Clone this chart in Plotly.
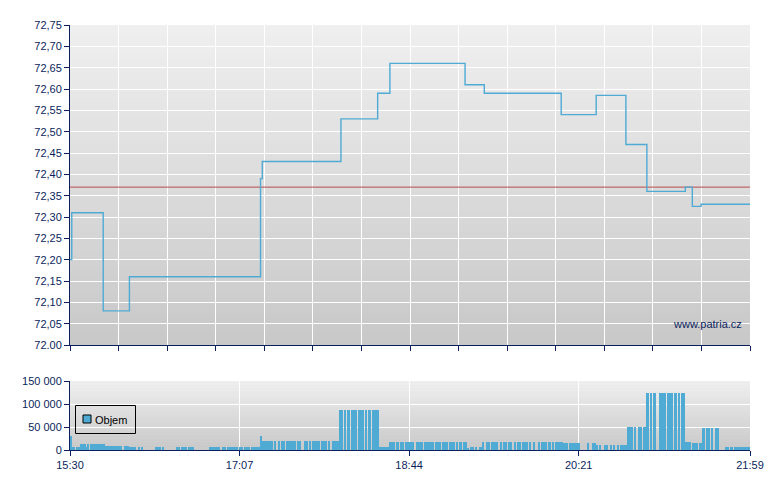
import plotly.graph_objects as go

# ---------------- data ----------------
price_times = ["15:30", "15:31", "15:49", "16:04", "17:19", "17:20", "18:05", "18:26",
               "18:33", "19:16", "19:27", "20:11", "20:31", "20:48", "21:00", "21:22",
               "21:26", "21:31", "21:59"]
price_values = [72.20, 72.31, 72.08, 72.16, 72.39, 72.43, 72.53, 72.59,
                72.66, 72.61, 72.59, 72.54, 72.585, 72.47, 72.36, 72.37,
                72.325, 72.33, 72.33]
prev_close = 72.37

session_start = "15:30"
session_end = "21:59"
# one value per minute from 15:30
volume_values = [
    30000, 6000, 6000, 0, 7000, 7000, 13000, 13000, 13000, 7000,
    13000, 0, 13000, 13000, 13000, 13000, 13000, 13000, 13000, 13000,
    9000, 9000, 9000, 9000, 9000, 9000, 9000, 9000, 9000, 9000,
    0, 9000, 9000, 9000, 6500, 6500, 6500, 6500, 0, 6500,
    0, 6500, 0, 0, 0, 0, 0, 0, 0, 6500,
    6500, 6500, 0, 6500, 0, 0, 0, 0, 0, 0,
    0, 6500, 6500, 0, 6500, 6500, 6500, 0, 6500, 6500,
    6500, 0, 0, 0, 0, 0, 0, 0, 0, 0,
    6500, 6500, 6500, 6500, 6500, 6500, 0, 6500, 6500, 0,
    6500, 6500, 6500, 6500, 6500, 6500, 0, 6500, 6500, 0,
    6500, 6500, 6500, 0, 6500, 6500, 6500, 6500, 6500, 30000,
    19500, 19500, 19500, 19500, 19500, 19500, 0, 19500, 0, 19500,
    0, 19500, 19500, 0, 19500, 19500, 19500, 19500, 19500, 0,
    19500, 19500, 0, 0, 19500, 19500, 0, 19500, 0, 19500,
    19500, 19500, 19500, 0, 19500, 19500, 19500, 0, 19500, 0,
    19500, 19500, 19500, 19500, 87000, 87000, 0, 87000, 0, 87000,
    0, 87000, 87000, 87000, 0, 87000, 87000, 87000, 0, 87000,
    0, 87000, 0, 87000, 87000, 87000, 87000, 6500, 6500, 6500,
    6500, 6500, 6500, 17400, 17400, 17400, 0, 17400, 0, 17400,
    17400, 0, 17400, 17400, 17400, 17400, 17400, 0, 17400, 17400,
    17400, 17400, 0, 17400, 17400, 17400, 17400, 17400, 0, 17400,
    17400, 17400, 0, 17400, 17400, 17400, 0, 17400, 17400, 17400,
    0, 17400, 0, 17400, 0, 17400, 17400, 4000, 0, 6500,
    6500, 0, 6500, 0, 6500, 6500, 17400, 0, 17400, 17400,
    0, 17400, 17400, 17400, 17400, 0, 17400, 0, 17400, 17400,
    0, 17400, 17400, 0, 17400, 0, 17400, 17400, 0, 17400,
    17400, 17400, 0, 17400, 0, 17400, 0, 0, 17400, 0,
    17400, 17400, 17400, 0, 17400, 0, 17400, 0, 17400, 17400,
    17400, 16500, 15000, 15000, 15000, 0, 15000, 15000, 15000, 15000,
    15000, 16000, 0, 0, 0, 0, 16000, 0, 0, 16000,
    16000, 11000, 0, 11000, 0, 0, 11000, 11000, 0, 11000,
    0, 11000, 0, 11000, 0, 11000, 11000, 11000, 11000, 50000,
    50000, 50000, 0, 50000, 0, 50000, 50000, 0, 50000, 50000,
    124000, 0, 124000, 0, 124000, 0, 0, 124000, 124000, 124000,
    124000, 0, 124000, 124000, 124000, 0, 124000, 0, 124000, 0,
    124000, 124000, 18000, 18000, 18000, 0, 16000, 15000, 15000, 0,
    15000, 15000, 48000, 0, 48000, 48000, 0, 48000, 0, 48000,
    48000, 0, 0, 0, 0, 6500, 6500, 0, 6500, 0,
    6500, 6500, 6500, 6500, 6500, 6500, 6500, 6500, 6500, 6500,
]

price_ticks = [72.00, 72.05, 72.10, 72.15, 72.20, 72.25, 72.30, 72.35,
               72.40, 72.45, 72.50, 72.55, 72.60, 72.65, 72.70, 72.75]
price_tick_labels = ["72.00", "72,05", "72,10", "72,15", "72,20", "72,25", "72,30", "72,35",
                     "72,40", "72,45", "72,50", "72,55", "72,60", "72,65", "72,70", "72,75"]
volume_ticks = [0, 50000, 100000, 150000]
volume_tick_labels = ["0", "50 000", "100 000", "150 000"]
time_tick_labels = ["15:30", "17:07", "18:44", "20:21", "21:59"]
legend_label = "Objem"
watermark = "www.patria.cz"


def to_min(t):
    h, m = map(int, t.split(":"))
    sh, sm = map(int, session_start.split(":"))
    return (h * 60 + m) - (sh * 60 + sm)


session_len = to_min(session_end)
price_x = [to_min(t) for t in price_times]
vol_x = list(range(len(volume_values)))
time_tick_vals = [to_min(t) for t in time_tick_labels]
top_grid_vals = [session_len * k / 14 for k in range(15)]

# ---------------- style ----------------
NAVY = "#0b1f5c"
BLUE = "#4faad4"
FONT = "Liberation Sans, Arial, sans-serif"

# page body has an 8px default margin; figure sized so plot area lands at x 70..750, y 25..450
OFF = 8
W, H = 780 - OFF, 490 - OFF
ML, MR, MT, MB = 70 - OFF, 30, 25 - OFF, 40
plot_w = W - ML - MR
plot_h = H - MT - MB
# screen pixel -> paper fraction
def px_x(p):
    return (p - 70) / plot_w


def px_y(p):
    return (450 - p) / plot_h


top_domain = [px_y(345), 1.0]
bot_domain = [0.0, px_y(381)]

fig = go.Figure()

fig.add_trace(go.Scatter(
    x=[0, session_len], y=[prev_close, prev_close], mode="lines",
    line=dict(color="#b84a4a", width=1), xaxis="x", yaxis="y",
    showlegend=False, hoverinfo="skip"))

fig.add_trace(go.Scatter(
    x=price_x, y=price_values, mode="lines",
    line=dict(shape="hv", color=BLUE, width=1.4), xaxis="x", yaxis="y",
    showlegend=False))

fig.add_trace(go.Bar(
    x=vol_x, y=volume_values, width=1, offset=0, name=legend_label,
    marker=dict(color=BLUE, line=dict(width=0)), xaxis="x2", yaxis="y2",
    showlegend=False))

# gradient backgrounds
shapes = []
N = 48
for ax in ("", "2"):
    for i in range(N):
        t = i / (N - 1)
        c = round(239 - (239 - 200) * t)
        shapes.append(dict(
            type="rect", xref="x%s domain" % ax, yref="y%s domain" % ax,
            x0=0, x1=1, y0=max(0, 1 - (i + 1) / N - 0.004), y1=1 - i / N,
            fillcolor="rgb(%d,%d,%d)" % (c, c, c), line=dict(width=0), layer="below"))

# legend box drawn as layout decoration
shapes.append(dict(type="rect", xref="paper", yref="paper",
                   x0=px_x(75.5), x1=px_x(135.5), y0=px_y(433.5), y1=px_y(405.5),
                   line=dict(color="black", width=1), fillcolor="rgba(0,0,0,0)"))
shapes.append(dict(type="rect", xref="paper", yref="paper",
                   x0=px_x(83), x1=px_x(91), y0=px_y(423), y1=px_y(415),
                   line=dict(color="black", width=1), fillcolor=BLUE))

annotations = [
    dict(text=legend_label, xref="paper", yref="paper", x=px_x(92.5), y=px_y(419.5),
         xanchor="left", yanchor="middle", showarrow=False,
         font=dict(family=FONT, size=11, color="black")),
    dict(text=watermark, xref="paper", yref="paper", x=px_x(744), y=px_y(323.5),
         xanchor="right", yanchor="middle", showarrow=False,
         font=dict(family=FONT, size=11, color=NAVY)),
]

axis_common = dict(showline=True, linecolor=NAVY, linewidth=1, ticks="outside",
                   ticklen=5, tickcolor=NAVY, tickwidth=1, gridcolor="white",
                   gridwidth=1, zeroline=False, showgrid=True,
                   tickfont=dict(family=FONT, size=11, color=NAVY))

fig.update_layout(
    width=W, height=H,
    margin=dict(l=ML, r=MR, t=MT, b=MB, autoexpand=False),
    paper_bgcolor="white", plot_bgcolor="#dddddd",
    showlegend=False, bargap=0,
    shapes=shapes, annotations=annotations,
    xaxis=dict(domain=[0, 1], range=[0, session_len], anchor="y",
               tickmode="array", tickvals=top_grid_vals, showticklabels=False,
               **axis_common),
    yaxis=dict(domain=top_domain, range=[72.0, 72.75], anchor="x",
               tickmode="array", tickvals=price_ticks, ticktext=price_tick_labels,
               **axis_common),
    xaxis2=dict(domain=[0, 1], range=[0, session_len], anchor="y2",
                tickmode="array", tickvals=time_tick_vals, ticktext=time_tick_labels,
                **axis_common),
    yaxis2=dict(domain=bot_domain, range=[0, 150000], anchor="x2",
                tickmode="array", tickvals=volume_ticks, ticktext=volume_tick_labels,
                **axis_common),
)

fig.write_html("out.html")
